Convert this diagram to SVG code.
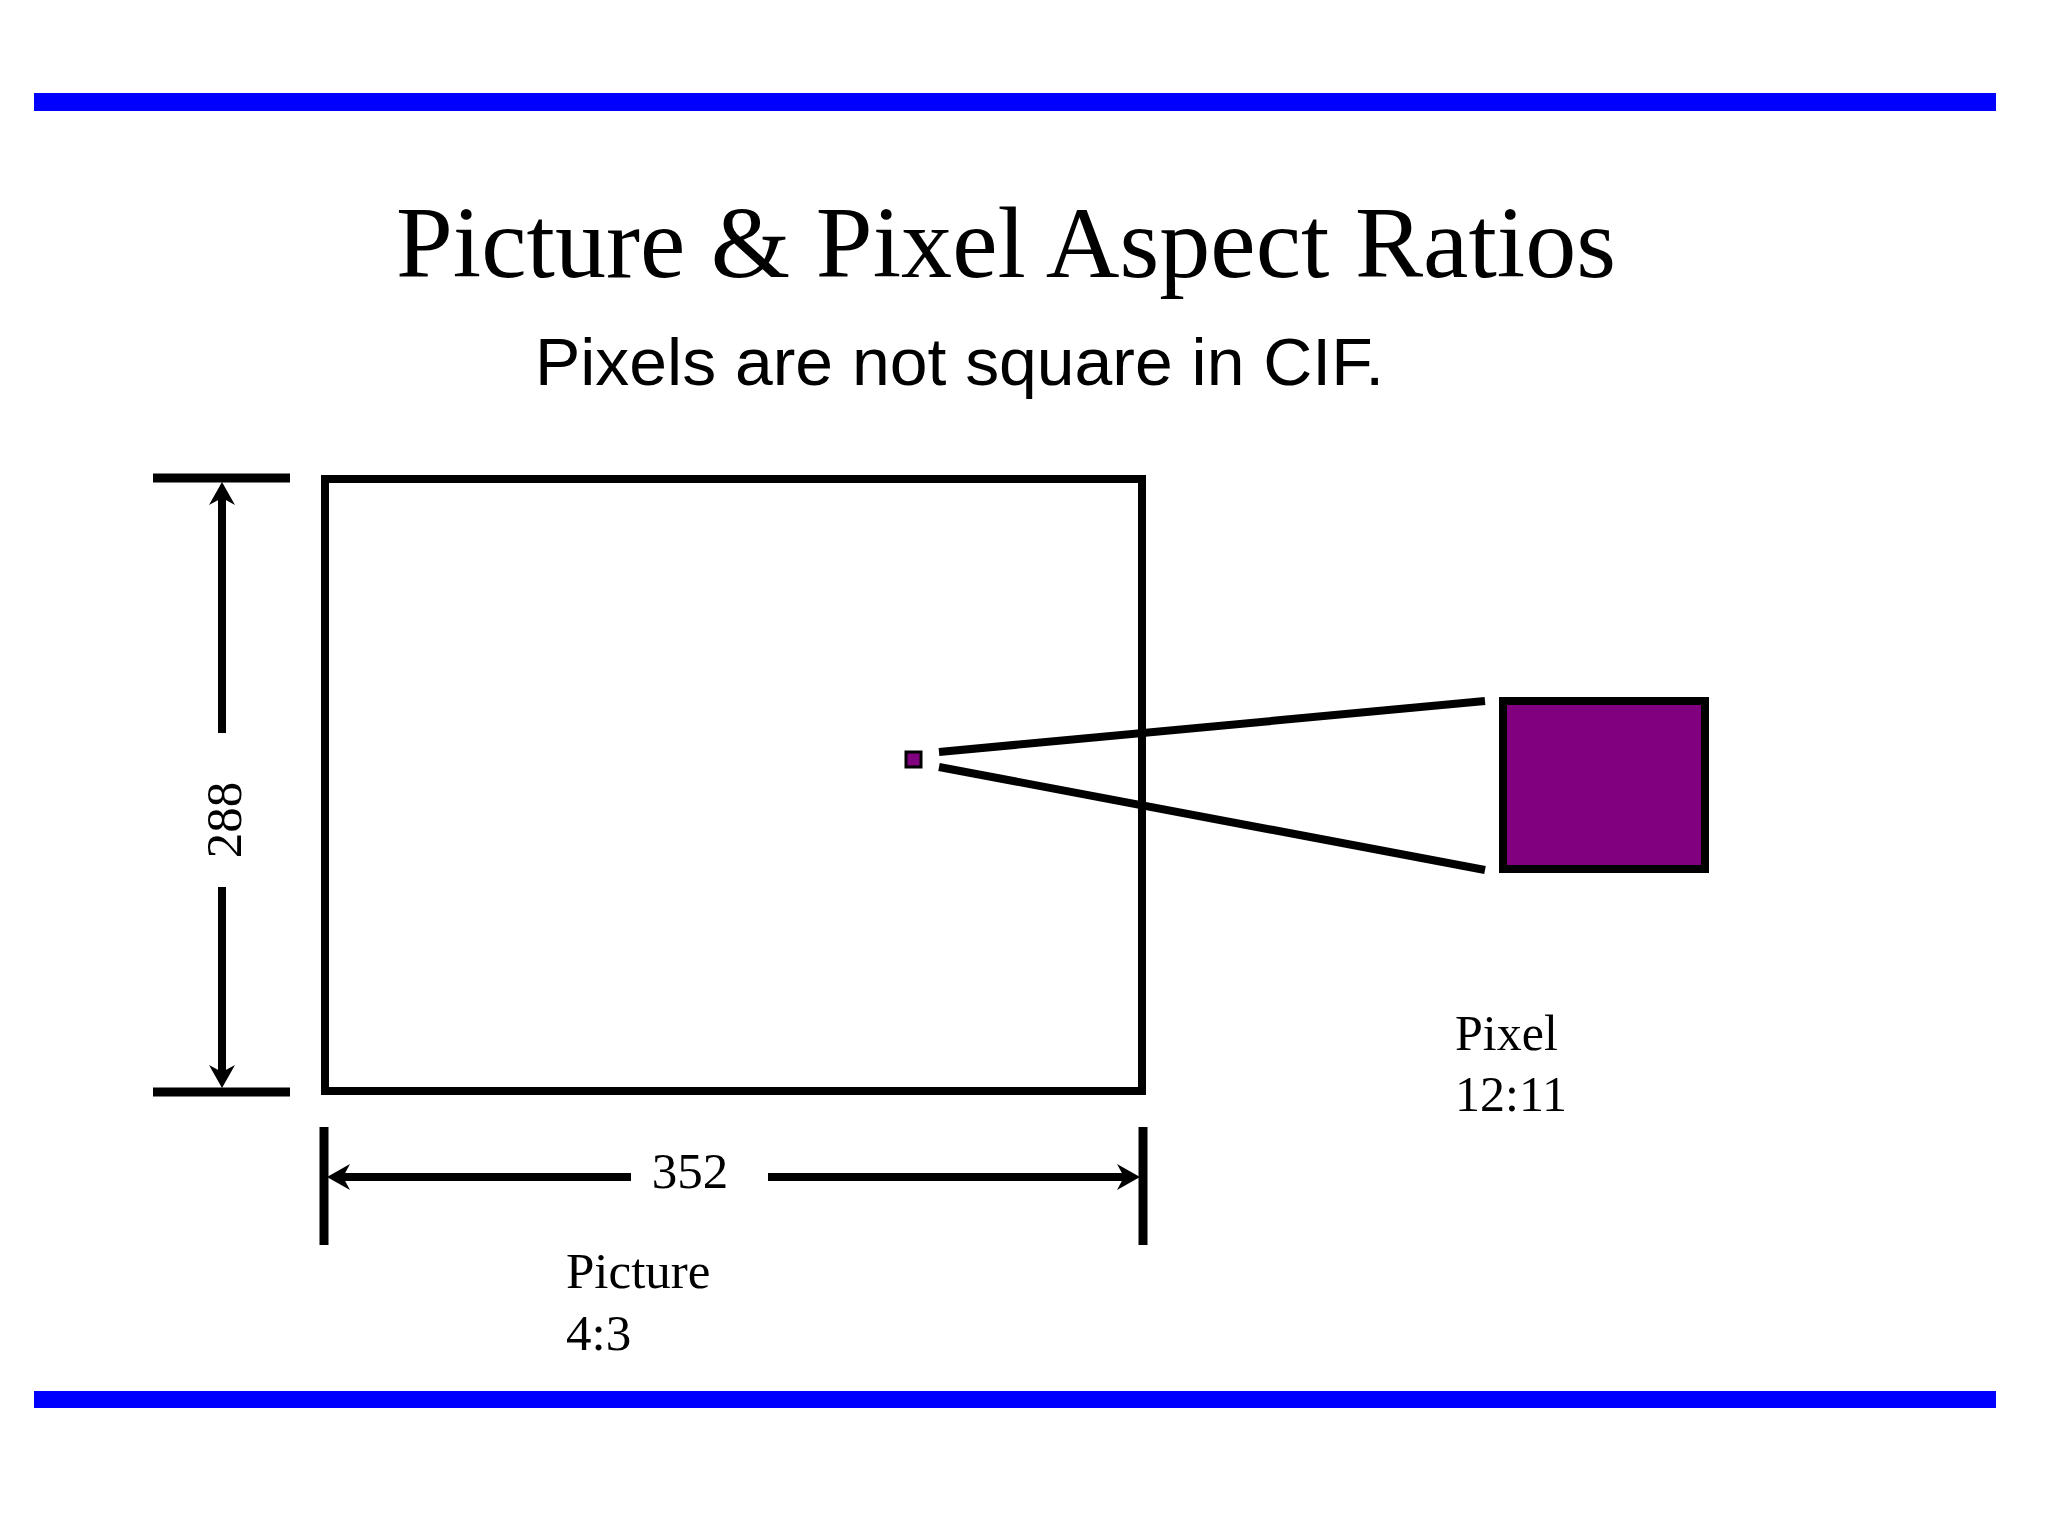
<svg xmlns="http://www.w3.org/2000/svg" width="2048" height="1536" viewBox="0 0 2048 1536">
<style>
.bar{fill:#0000ff}
.serif{font-family:"Liberation Serif","Times New Roman",serif;fill:#000}
.sans{font-family:"Liberation Sans",Arial,sans-serif;fill:#000}
.ln{stroke:#000;stroke-width:8;fill:none}
.dim{stroke:#000;stroke-width:8;fill:none}
.tick{stroke:#000;stroke-width:9;fill:none}
.head{fill:#000;stroke:none}
</style>
<rect width="2048" height="1536" fill="#fff"/>
<g id="frame">
<rect class="bar" x="34" y="93" width="1962" height="18"/>
<rect class="bar" x="34" y="1391" width="1962" height="17"/>
</g>
<g id="title">
<text class="serif" x="396" y="277" font-size="102" textLength="1220" lengthAdjust="spacingAndGlyphs">Picture &amp; Pixel Aspect Ratios</text>
<text class="sans" x="535" y="385" font-size="67" textLength="849" lengthAdjust="spacingAndGlyphs">Pixels are not square in CIF.</text>
</g>
<g id="picture">
<rect x="325" y="479" width="817" height="612" fill="none" stroke="#000" stroke-width="8"/>
</g>
<g id="pixel-small">
<rect x="906" y="752" width="15" height="15" fill="#800080" stroke="#000" stroke-width="3"/>
</g>
<g id="pixel-large">
<rect x="1503" y="701" width="202" height="168" fill="#800080" stroke="#000" stroke-width="8"/>
</g>
<g id="connectors">
<line class="ln" x1="939" y1="752" x2="1485" y2="701"/>
<line class="ln" x1="939" y1="767" x2="1485" y2="870"/>
<g id="dim-height">
<line class="tick" x1="153" y1="478" x2="290" y2="478"/>
<line class="tick" x1="153" y1="1092" x2="290" y2="1092"/>
<line class="dim" x1="222" y1="498" x2="222" y2="733"/>
<line class="dim" x1="222" y1="887" x2="222" y2="1072"/>
<path class="head" d="M222,482 L235,505 L222,498 L209,505 Z"/>
<path class="head" d="M222,1088 L235,1065 L222,1072 L209,1065 Z"/>
</g>
<g id="dim-width">
<line class="tick" x1="324" y1="1127" x2="324" y2="1245"/>
<line class="tick" x1="1143" y1="1127" x2="1143" y2="1245"/>
<line class="dim" x1="342" y1="1177" x2="631" y2="1177"/>
<line class="dim" x1="768" y1="1177" x2="1125" y2="1177"/>
<path class="head" d="M327,1177 L350,1164 L343,1177 L350,1190 Z"/>
<path class="head" d="M1140,1177 L1117,1164 L1124,1177 L1117,1190 Z"/>
</g>
</g>
<g id="labels">
<text class="serif" font-size="51" text-anchor="middle" transform="translate(241,820) rotate(-90)">288</text>
<text class="serif" x="690" y="1188" font-size="51" text-anchor="middle">352</text>
<text class="serif" x="566" y="1288" font-size="51">Picture</text>
<text class="serif" x="566" y="1350" font-size="51">4:3</text>
<text class="serif" x="1455" y="1050" font-size="50">Pixel</text>
<text class="serif" x="1455" y="1111" font-size="50">12:11</text>
</g>
</svg>
